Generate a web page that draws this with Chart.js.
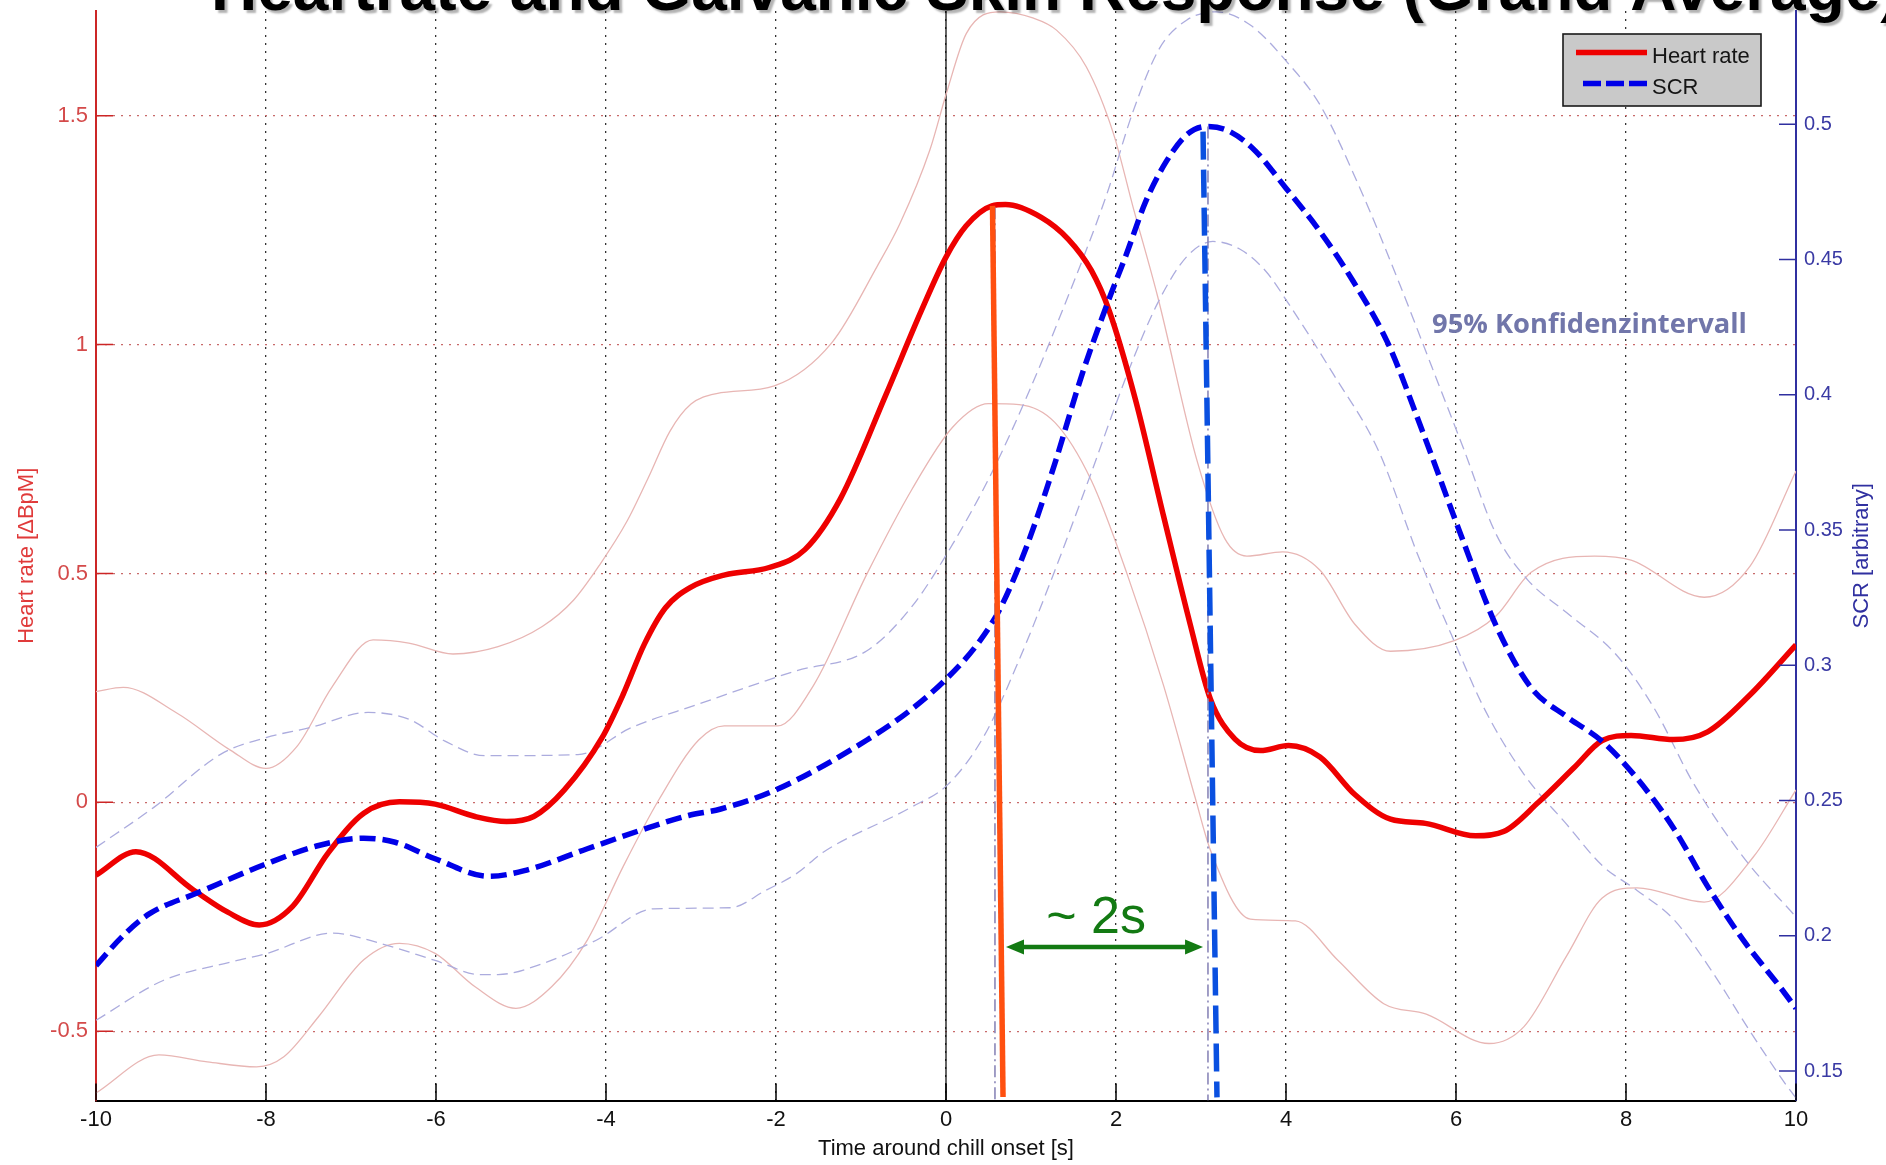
<!DOCTYPE html>
<html>
<head>
<meta charset="utf-8">
<title>Heartrate and Galvanic Skin Response</title>
<script src="https://cdn.jsdelivr.net/npm/chart.js@4.4.1/dist/chart.umd.min.js"></script>
<style>
  html, body { margin: 0; padding: 0; background: #ffffff; overflow: hidden; }
  #c { display: block; }
</style>
</head>
<body>
<canvas id="c" width="1886" height="1165"></canvas>
<script>
// ---- axis ticks and ranges ----
const xTicks   = [-10, -8, -6, -4, -2, 0, 2, 4, 6, 8, 10];
const hrTicks  = [-0.5, 0, 0.5, 1, 1.5];
const scrTicks = [0.15, 0.2, 0.25, 0.3, 0.35, 0.4, 0.45, 0.5];
const hrRange  = [-0.6517, 1.7288];
const scrRange = [0.1391, 0.5419];

// ---- heart rate: grand average and 95% confidence band ----
const hrTime = [-10, -9.53, -8.85, -8.45, -8.08, -7.69, -7.27, -6.85, -6.43, -6.01, -5.54, -5.17, -4.85, -4.49, -4.05, -3.8, -3.55, -3.3, -3.0, -2.6, -2.08, -1.66, -1.24, -0.71, -0.29, 0, 0.235, 0.54, 0.70, 1.12, 1.44, 1.71, 1.92, 2.23, 2.56, 2.87, 3.11, 3.40, 3.70, 4.03, 4.40, 4.81, 5.23, 5.64, 6.23, 6.56, 6.97, 7.39, 7.72, 8.06, 8.56, 8.96, 9.46, 10];
const hrMean = [-0.159, -0.108, -0.192, -0.24, -0.268, -0.228, -0.111, -0.024, 0.001, -0.004, -0.031, -0.042, -0.031, 0.027, 0.14, 0.235, 0.345, 0.425, 0.47, 0.497, 0.513, 0.552, 0.664, 0.889, 1.074, 1.191, 1.259, 1.303, 1.306, 1.278, 1.23, 1.162, 1.074, 0.879, 0.625, 0.391, 0.226, 0.138, 0.113, 0.124, 0.099, 0.017, -0.037, -0.046, -0.073, -0.064, 0, 0.076, 0.135, 0.146, 0.137, 0.154, 0.235, 0.344];

const hrUpperTime = [-10, -9.68, -9.05, -8.42, -8.0, -7.64, -7.22, -6.74, -6.32, -5.8, -5.27, -4.75, -4.38, -4.07, -3.75, -3.5, -3.25, -3.0, -2.7, -2.02, -1.34, -0.81, -0.54, -0.19, 0.005, 0.24, 0.635, 1.03, 1.30, 1.65, 1.97, 2.20, 2.49, 2.96, 3.28, 3.54, 3.96, 4.40, 4.81, 5.23, 5.98, 6.47, 6.88, 7.63, 8.06, 8.92, 9.46, 10];
const hrUpper     = [0.242, 0.251, 0.195, 0.114, 0.074, 0.121, 0.253, 0.355, 0.348, 0.324, 0.34, 0.384, 0.442, 0.52, 0.615, 0.71, 0.81, 0.87, 0.893, 0.91, 1.005, 1.171, 1.265, 1.425, 1.549, 1.68, 1.727, 1.713, 1.687, 1.607, 1.461, 1.301, 1.105, 0.742, 0.576, 0.538, 0.547, 0.507, 0.389, 0.330, 0.353, 0.407, 0.502, 0.538, 0.529, 0.448, 0.516, 0.724];

const hrLowerTime = [-10, -9.26, -8.69, -8.11, -7.79, -7.38, -6.85, -6.43, -6.01, -5.54, -5.06, -4.64, -4.22, -3.80, -3.38, -2.91, -2.61, -1.98, -1.56, -0.93, -0.40, 0.08, 0.50, 0.86, 1.28, 1.71, 2.13, 2.56, 2.93, 3.11, 3.58, 4.11, 4.61, 5.15, 5.65, 6.39, 6.80, 7.30, 7.72, 8.13, 8.92, 9.50, 10];
const hrLower     = [-0.635, -0.552, -0.567, -0.578, -0.556, -0.468, -0.344, -0.308, -0.33, -0.403, -0.45, -0.403, -0.301, -0.141, 0.005, 0.136, 0.167, 0.167, 0.255, 0.499, 0.684, 0.82, 0.871, 0.869, 0.83, 0.703, 0.499, 0.255, 0.011, -0.104, -0.255, -0.259, -0.345, -0.44, -0.463, -0.527, -0.49, -0.336, -0.209, -0.187, -0.218, -0.119, 0.027];

// ---- skin conductance response: grand average and 95% confidence band ----
const scrTime = [-10, -9.68, -9.37, -8.79, -8.0, -7.38, -6.85, -6.48, -6.01, -5.38, -4.96, -4.22, -3.49, -3.03, -2.65, -1.98, -0.93, -0.40, 0.02, 0.39, 0.65, 0.96, 1.28, 1.60, 1.92, 2.12, 2.35, 2.59, 2.83, 3.06, 3.30, 3.61, 4.0, 4.4, 4.79, 5.2, 5.60, 6.06, 6.47, 6.88, 7.30, 7.72, 8.13, 8.56, 8.96, 9.38, 9.80, 10];
const scrMean = [0.189, 0.2001, 0.2082, 0.2161, 0.2266, 0.2334, 0.2361, 0.2346, 0.2285, 0.222, 0.2241, 0.2322, 0.2401, 0.2445, 0.2469, 0.2543, 0.2724, 0.2839, 0.2955, 0.3087, 0.3218, 0.3449, 0.3746, 0.4075, 0.4356, 0.4518, 0.4715, 0.4862, 0.4961, 0.4992, 0.4979, 0.4911, 0.4764, 0.4604, 0.442, 0.419, 0.387, 0.348, 0.3148, 0.2919, 0.2811, 0.2719, 0.2582, 0.2398, 0.2183, 0.1984, 0.1816, 0.1732];

const scrUpperTime = [-10, -9.32, -8.53, -8.0, -7.48, -6.80, -6.32, -5.90, -5.43, -4.33, -3.70, -2.91, -2.12, -1.76, -0.93, -0.40, 0.08, 0.54, 0.96, 1.38, 1.89, 2.20, 2.51, 2.83, 3.18, 3.58, 4.01, 4.40, 4.87, 5.34, 5.72, 6.10, 6.47, 6.84, 7.30, 7.88, 8.33, 8.79, 9.38, 10];
const scrUpper     = [0.2327, 0.2475, 0.2672, 0.2733, 0.277, 0.2826, 0.2801, 0.2721, 0.2666, 0.267, 0.277, 0.2857, 0.2943, 0.298, 0.3054, 0.3218, 0.3449, 0.3713, 0.400, 0.432, 0.474, 0.5047, 0.528, 0.5385, 0.5416, 0.5367, 0.5231, 0.5072, 0.4764, 0.4407, 0.41, 0.3792, 0.3486, 0.3317, 0.3195, 0.3041, 0.2842, 0.2566, 0.2291, 0.207];

const scrLowerTime = [-10, -9.21, -8.42, -8.0, -7.22, -6.64, -6.01, -5.48, -5.27, -4.75, -4.12, -3.44, -2.54, -2.12, -1.76, -1.44, -0.40, 0.02, 0.45, 0.86, 1.28, 1.71, 2.13, 2.49, 2.83, 3.14, 3.45, 3.76, 4.02, 4.55, 5.09, 5.55, 5.96, 6.33, 6.80, 7.30, 7.72, 8.13, 8.56, 8.96, 9.46, 9.85, 10];
const scrLower     = [0.1688, 0.1835, 0.1903, 0.1934, 0.201, 0.1971, 0.1909, 0.1857, 0.1857, 0.1897, 0.1983, 0.21, 0.2104, 0.2168, 0.223, 0.231, 0.2477, 0.2559, 0.274, 0.302, 0.335, 0.3713, 0.4075, 0.4339, 0.451, 0.4567, 0.454, 0.4458, 0.4342, 0.408, 0.3792, 0.3409, 0.3103, 0.2842, 0.2597, 0.2413, 0.226, 0.2168, 0.2061, 0.1893, 0.1647, 0.1464, 0.140];

// ---- peak markers and latency annotation ----
const hrPeakLineX  = [0.547, 0.671];
const hrPeakLineY  = [1.303, -0.644];
const hrPeakGuideX = [0.576, 0.576];
const hrPeakGuideY = [1.30, hrRange[0]];
const scrPeakLineX  = [3.024, 3.188];
const scrPeakLineY  = [0.4973, 0.1403];
const scrPeakGuideX = [3.082, 3.082];
const scrPeakGuideY = [0.4992, scrRange[0]];
const onsetX = [0, 0];
const onsetY = [hrRange[0], hrRange[1]];
const latencyX = [0.706, 3.024];
const latencyY = -0.316;
const latencyLabel = '~ 2s';
const latencyLabelAt = [1.765, -0.286];
const ciNote = '95% Konfidenzintervall';
const ciNoteAt = [5.718, 1.025];

// ---- text and colours ----
const chartTitle = 'Heartrate and Galvanic Skin Response (Grand Average)';
const hrAxisTitle = 'Heart rate [\u0394BpM]';
const scrAxisTitle = 'SCR [arbitrary]';
const timeAxisTitle = 'Time around chill onset [s]';
const hrColor = '#ee0000';
const scrColor = '#0000e8';
const hrBandColor = '#e8b6b4';
const scrBandColor = '#acacde';
const hrAxisColor = '#cc2626';
const scrAxisColor = '#3030a0';
const latencyColor = '#137a13';
const FONT = "'Liberation Sans', Arial, Helvetica, sans-serif";

const pts = (xs, ys) => xs.map((x, i) => ({ x, y: ys[i] }));
const curve = (label, xs, ys, axis, style) => Object.assign({
  label, yAxisID: axis, data: pts(xs, ys), pointRadius: 0, fill: false,
  cubicInterpolationMode: 'monotone', borderCapStyle: 'butt'
}, style);
const straight = (label, xs, ys, axis, style) => Object.assign({
  label, yAxisID: axis, data: pts(xs, ys), pointRadius: 0, fill: false, tension: 0,
  borderCapStyle: 'butt'
}, style);

// first entries are painted last (on top)
const datasets = [
  straight('HR peak', hrPeakLineX, hrPeakLineY, 'yHR', { borderColor: '#ff5010', borderWidth: 5.5 }),
  straight('SCR peak', scrPeakLineX, scrPeakLineY, 'ySCR', { borderColor: '#0a50e0', borderWidth: 5.5, borderDash: [28, 10] }),
  straight('HR peak guide', hrPeakGuideX, hrPeakGuideY, 'yHR', { borderColor: '#8a86b8', borderWidth: 1.6, borderDash: [12, 4, 2, 4] }),
  straight('SCR peak guide', scrPeakGuideX, scrPeakGuideY, 'ySCR', { borderColor: '#8a86b8', borderWidth: 1.6, borderDash: [12, 4, 2, 4] }),
  curve('SCR', scrTime, scrMean, 'ySCR', { borderColor: scrColor, borderWidth: 5.5, borderDash: [16, 7] }),
  curve('Heart rate', hrTime, hrMean, 'yHR', { borderColor: hrColor, borderWidth: 5.5 }),
  curve('SCR upper 95%', scrUpperTime, scrUpper, 'ySCR', { borderColor: scrBandColor, borderWidth: 1.3, borderDash: [11, 6] }),
  curve('SCR lower 95%', scrLowerTime, scrLower, 'ySCR', { borderColor: scrBandColor, borderWidth: 1.3, borderDash: [11, 6] }),
  curve('HR upper 95%', hrUpperTime, hrUpper, 'yHR', { borderColor: hrBandColor, borderWidth: 1.3 }),
  curve('HR lower 95%', hrLowerTime, hrLower, 'yHR', { borderColor: hrBandColor, borderWidth: 1.3 }),
  straight('Onset', onsetX, onsetY, 'yHR', { borderColor: '#111111', borderWidth: 1.3 })
];

const fitFont = (ctx, text, weight, family, width) => {
  ctx.font = `${weight} 100px ${family}`;
  return 100 * width / ctx.measureText(text).width;
};

const decor = {
  id: 'decor',
  afterDatasetsDraw(chart) {
    const { ctx, chartArea: a, scales } = chart;
    const sx = scales.x, sh = scales.yHR, ss = scales.ySCR;
    ctx.save();
    ctx.setLineDash([]);
    ctx.lineWidth = 1.5;
    // tick marks point inward, one colour per axis
    ctx.strokeStyle = '#000';
    ctx.beginPath();
    xTicks.forEach(v => { const p = sx.getPixelForValue(v); ctx.moveTo(p, a.bottom); ctx.lineTo(p, a.bottom - 17); });
    ctx.stroke();
    ctx.strokeStyle = hrAxisColor;
    ctx.beginPath();
    hrTicks.forEach(v => { const p = sh.getPixelForValue(v); ctx.moveTo(a.left, p); ctx.lineTo(a.left + 17, p); });
    ctx.stroke();
    ctx.strokeStyle = scrAxisColor;
    ctx.beginPath();
    scrTicks.forEach(v => { const p = ss.getPixelForValue(v); ctx.moveTo(a.right, p); ctx.lineTo(a.right - 17, p); });
    ctx.stroke();

    // double arrow between the two peaks
    const ay = sh.getPixelForValue(latencyY);
    const ax0 = sx.getPixelForValue(latencyX[0]);
    const ax1 = sx.getPixelForValue(latencyX[1]);
    ctx.strokeStyle = latencyColor;
    ctx.fillStyle = latencyColor;
    ctx.lineWidth = 4.5;
    ctx.beginPath(); ctx.moveTo(ax0 + 10, ay); ctx.lineTo(ax1 - 10, ay); ctx.stroke();
    ctx.beginPath(); ctx.moveTo(ax0, ay); ctx.lineTo(ax0 + 18, ay - 7.5); ctx.lineTo(ax0 + 18, ay + 7.5); ctx.closePath(); ctx.fill();
    ctx.beginPath(); ctx.moveTo(ax1, ay); ctx.lineTo(ax1 - 18, ay - 7.5); ctx.lineTo(ax1 - 18, ay + 7.5); ctx.closePath(); ctx.fill();
    ctx.font = `52px ${FONT}`;
    ctx.textAlign = 'center';
    ctx.textBaseline = 'alphabetic';
    ctx.fillText(latencyLabel, sx.getPixelForValue(latencyLabelAt[0]), sh.getPixelForValue(latencyLabelAt[1]));

    // confidence band note
    const noteFamily = "'Open Sans', 'DejaVu Sans', sans-serif";
    const noteSize = fitFont(ctx, ciNote, 'bold', noteFamily, 315);
    ctx.font = `bold ${noteSize}px ${noteFamily}`;
    ctx.fillStyle = '#7176aa';
    ctx.textAlign = 'left';
    ctx.fillText(ciNote, sx.getPixelForValue(ciNoteAt[0]), sh.getPixelForValue(ciNoteAt[1]));
    ctx.restore();
  },
  afterDraw(chart) {
    const { ctx, chartArea: a } = chart;
    ctx.save();
    // legend box
    const bx = a.right - 233, by = a.top + 23, bw = 198, bh = 72;
    ctx.fillStyle = '#c9c9c9';
    ctx.fillRect(bx, by, bw, bh);
    ctx.strokeStyle = '#1a1a1a';
    ctx.lineWidth = 1.6;
    ctx.strokeRect(bx, by, bw, bh);
    const items = [datasets[5], datasets[4]];
    items.forEach((ds, i) => {
      const ly = by + 18.5 + i * 31;
      ctx.strokeStyle = ds.borderColor;
      ctx.lineWidth = ds.borderWidth;
      ctx.setLineDash(ds.borderDash ? [18, 5] : []);
      ctx.beginPath();
      ctx.moveTo(bx + (ds.borderDash ? 20 : 13), ly);
      ctx.lineTo(bx + 84, ly);
      ctx.stroke();
      ctx.setLineDash([]);
      ctx.fillStyle = '#151515';
      ctx.font = `22px ${FONT}`;
      ctx.textAlign = 'left';
      ctx.textBaseline = 'alphabetic';
      ctx.fillText(ds.label, bx + 89, ly + 10);
    });

    // right axis label, reading upward like the left one
    ctx.save();
    ctx.translate(1862, (a.top + a.bottom) / 2);
    ctx.rotate(-Math.PI / 2);
    ctx.fillStyle = scrAxisColor;
    ctx.font = `22px ${FONT}`;
    ctx.textAlign = 'center';
    ctx.textBaseline = 'middle';
    ctx.fillText(scrAxisTitle, 0, 0);
    ctx.restore();

    // figure title
    ctx.font = `bold 64px ${FONT}`;
    ctx.textAlign = 'left';
    ctx.textBaseline = 'alphabetic';
    ctx.shadowColor = 'rgba(0,0,0,0.3)';
    ctx.shadowOffsetX = 3;
    ctx.shadowOffsetY = 3;
    ctx.shadowBlur = 2;
    ctx.fillStyle = '#000';
    ctx.fillText(chartTitle, 211, 10);
    ctx.restore();
  }
};

const edgeless = (color) => (c) => (c.tick && (c.tick.value === -10 || c.tick.value === 10)) ? 'rgba(0,0,0,0)' : color;
const noPadY = (w) => (s) => { s.width = w; s.paddingTop = 0; s.paddingBottom = 0; };

new Chart(document.getElementById('c'), {
  type: 'line',
  data: { datasets },
  options: {
    responsive: false,
    devicePixelRatio: 1,
    animation: false,
    events: [],
    layout: { padding: { top: 11, left: 0, right: 0, bottom: 0 } },
    plugins: { legend: { display: false }, tooltip: { enabled: false }, title: { display: false } },
    scales: {
      x: {
        type: 'linear', min: -10, max: 10,
        afterBuildTicks: s => { s.ticks = xTicks.map(v => ({ value: v })); },
        afterFit: s => { s.height = 64.4; s.paddingLeft = 0; s.paddingRight = 0; },
        ticks: { color: '#111', font: { family: FONT, size: 22 }, padding: 6, maxRotation: 0, autoSkip: false, callback: v => String(v) },
        grid: { color: edgeless('#333333'), lineWidth: 1.3, drawTicks: false },
        border: { display: true, color: '#000', width: 2, dash: [2, 6] },
        title: { display: true, text: timeAxisTitle, color: '#111', font: { family: FONT, size: 22 }, padding: { top: 0, bottom: 3 } }
      },
      yHR: {
        type: 'linear', position: 'left', min: hrRange[0], max: hrRange[1],
        afterBuildTicks: s => { s.ticks = hrTicks.map(v => ({ value: v })); },
        afterFit: noPadY(96),
        ticks: { color: '#d44a4a', font: { family: FONT, size: 22 }, padding: 8, callback: v => String(v) },
        grid: { color: '#c86a6a', lineWidth: 1.3, drawTicks: false },
        border: { display: true, color: hrAxisColor, width: 2, dash: [2, 6] },
        title: { display: true, text: hrAxisTitle, color: '#e03a3a', font: { family: FONT, size: 22 }, padding: { top: 14 } }
      },
      ySCR: {
        type: 'linear', position: 'right', min: scrRange[0], max: scrRange[1],
        afterBuildTicks: s => { s.ticks = scrTicks.map(v => ({ value: v })); },
        afterFit: noPadY(90),
        ticks: { color: '#3a3aa4', font: { family: FONT, size: 20 }, padding: 8, callback: v => String(v) },
        grid: { display: false, drawTicks: false },
        border: { display: true, color: scrAxisColor, width: 2 }
      }
    }
  },
  plugins: [decor]
});
</script>
</body>
</html>
